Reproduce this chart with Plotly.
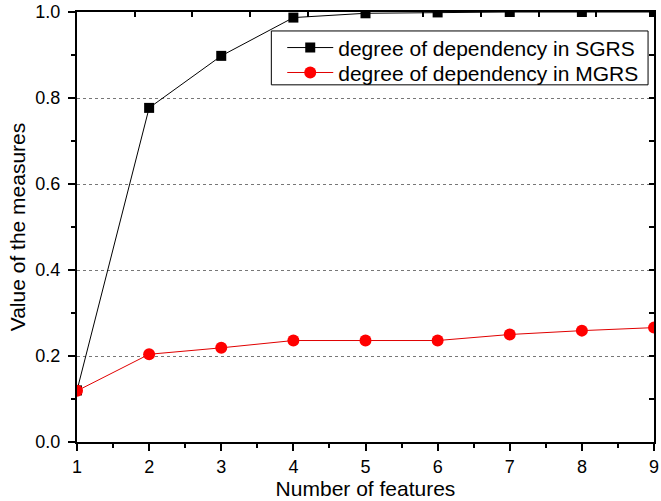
import plotly.graph_objects as go

features = [1, 2, 3, 4, 5, 6, 7, 8, 9]
sgrs = [0.12, 0.777, 0.898, 0.987, 0.997, 0.999, 1.0, 1.0, 1.0]
mgrs = [0.119, 0.204, 0.219, 0.236, 0.236, 0.236, 0.250, 0.259, 0.266]
y_ticks = [0.0, 0.2, 0.4, 0.6, 0.8, 1.0]
y_tick_labels = ["0.0", "0.2", "0.4", "0.6", "0.8", "1.0"]
x_ticks = features
x_tick_labels = [str(v) for v in features]

FONT = "Liberation Sans, Arial, sans-serif"

fig = go.Figure()
fig.add_trace(go.Scatter(
    x=features, y=sgrs, mode="lines+markers",
    name="degree of dependency in SGRS", legend="legend",
    line=dict(color="black", width=1),
    marker=dict(symbol="square", size=10, color="black"),
))
fig.add_trace(go.Scatter(
    x=features, y=mgrs, mode="lines+markers",
    name="degree of dependency in MGRS", legend="legend2",
    line=dict(color="#e00000", width=1),
    marker=dict(symbol="circle", size=12, color="#ff0000"),
))
# invisible helper trace for top and right axes
fig.add_trace(go.Scatter(x=[0, 10], y=[0, 1], xaxis="x2", yaxis="y2",
                         mode="markers", marker=dict(opacity=0),
                         showlegend=False, hoverinfo="skip"))

legend_common = dict(
    xanchor="left", yanchor="middle",
    bgcolor="rgba(0,0,0,0)", borderwidth=0,
    font=dict(size=21, family=FONT), itemwidth=46,
)

fig.update_layout(
    width=661, height=501,
    margin=dict(l=77, r=2, t=11, b=59),
    paper_bgcolor="white", plot_bgcolor="white",
    font=dict(family=FONT, size=18, color="black"),
    showlegend=True,
    legend=dict(x=0.3557, y=0.9165, **legend_common),
    legend2=dict(x=0.3557, y=0.8585, **legend_common),
    shapes=[dict(type="rect", xref="paper", yref="paper",
                 x0=0.3368, x1=0.9897, y0=0.8306, y1=0.9559,
                 line=dict(color="black", width=1), fillcolor="white",
                 layer="above")],
    xaxis=dict(
        range=[1, 9], tickmode="array", tickvals=x_ticks, ticktext=x_tick_labels,
        ticks="outside", ticklen=7, tickwidth=1.5, tickcolor="black",
        minor=dict(dtick=0.5, ticks="outside", ticklen=4, tickwidth=1.5, tickcolor="black"),
        showline=True, linecolor="black", linewidth=2,
        showgrid=False, zeroline=False, ticklabeloverflow="allow",
        title=dict(text="Number of features", font=dict(size=21), standoff=2),
        tickfont=dict(size=18),
    ),
    yaxis=dict(
        range=[0, 1.0], tickmode="array", tickvals=y_ticks, ticktext=y_tick_labels,
        ticks="outside", ticklen=7, tickwidth=1.5, tickcolor="black",
        minor=dict(dtick=0.1, ticks="outside", ticklen=4, tickwidth=1.5, tickcolor="black",
                   showgrid=False),
        showline=True, linecolor="black", linewidth=2,
        showgrid=True, gridcolor="#777777", griddash="3px,3px", gridwidth=1,
        zeroline=False, ticklabelstandoff=4,
        title=dict(text="Value of the measures", font=dict(size=21), standoff=4),
        tickfont=dict(size=18),
    ),
    xaxis2=dict(
        overlaying="x", side="top", range=[0, 10], dtick=1,
        ticks="inside", ticklen=5, tickwidth=1.5, tickcolor="black",
        showticklabels=False, showline=True, linecolor="black", linewidth=2,
        showgrid=False, zeroline=False,
    ),
    yaxis2=dict(
        overlaying="y", side="right", range=[0, 1.0], dtick=0.1,
        ticks="inside", ticklen=5, tickwidth=1.5, tickcolor="black",
        showticklabels=False, showline=True, linecolor="black", linewidth=2,
        showgrid=False, zeroline=False,
    ),
)

fig.write_html("out.html")
